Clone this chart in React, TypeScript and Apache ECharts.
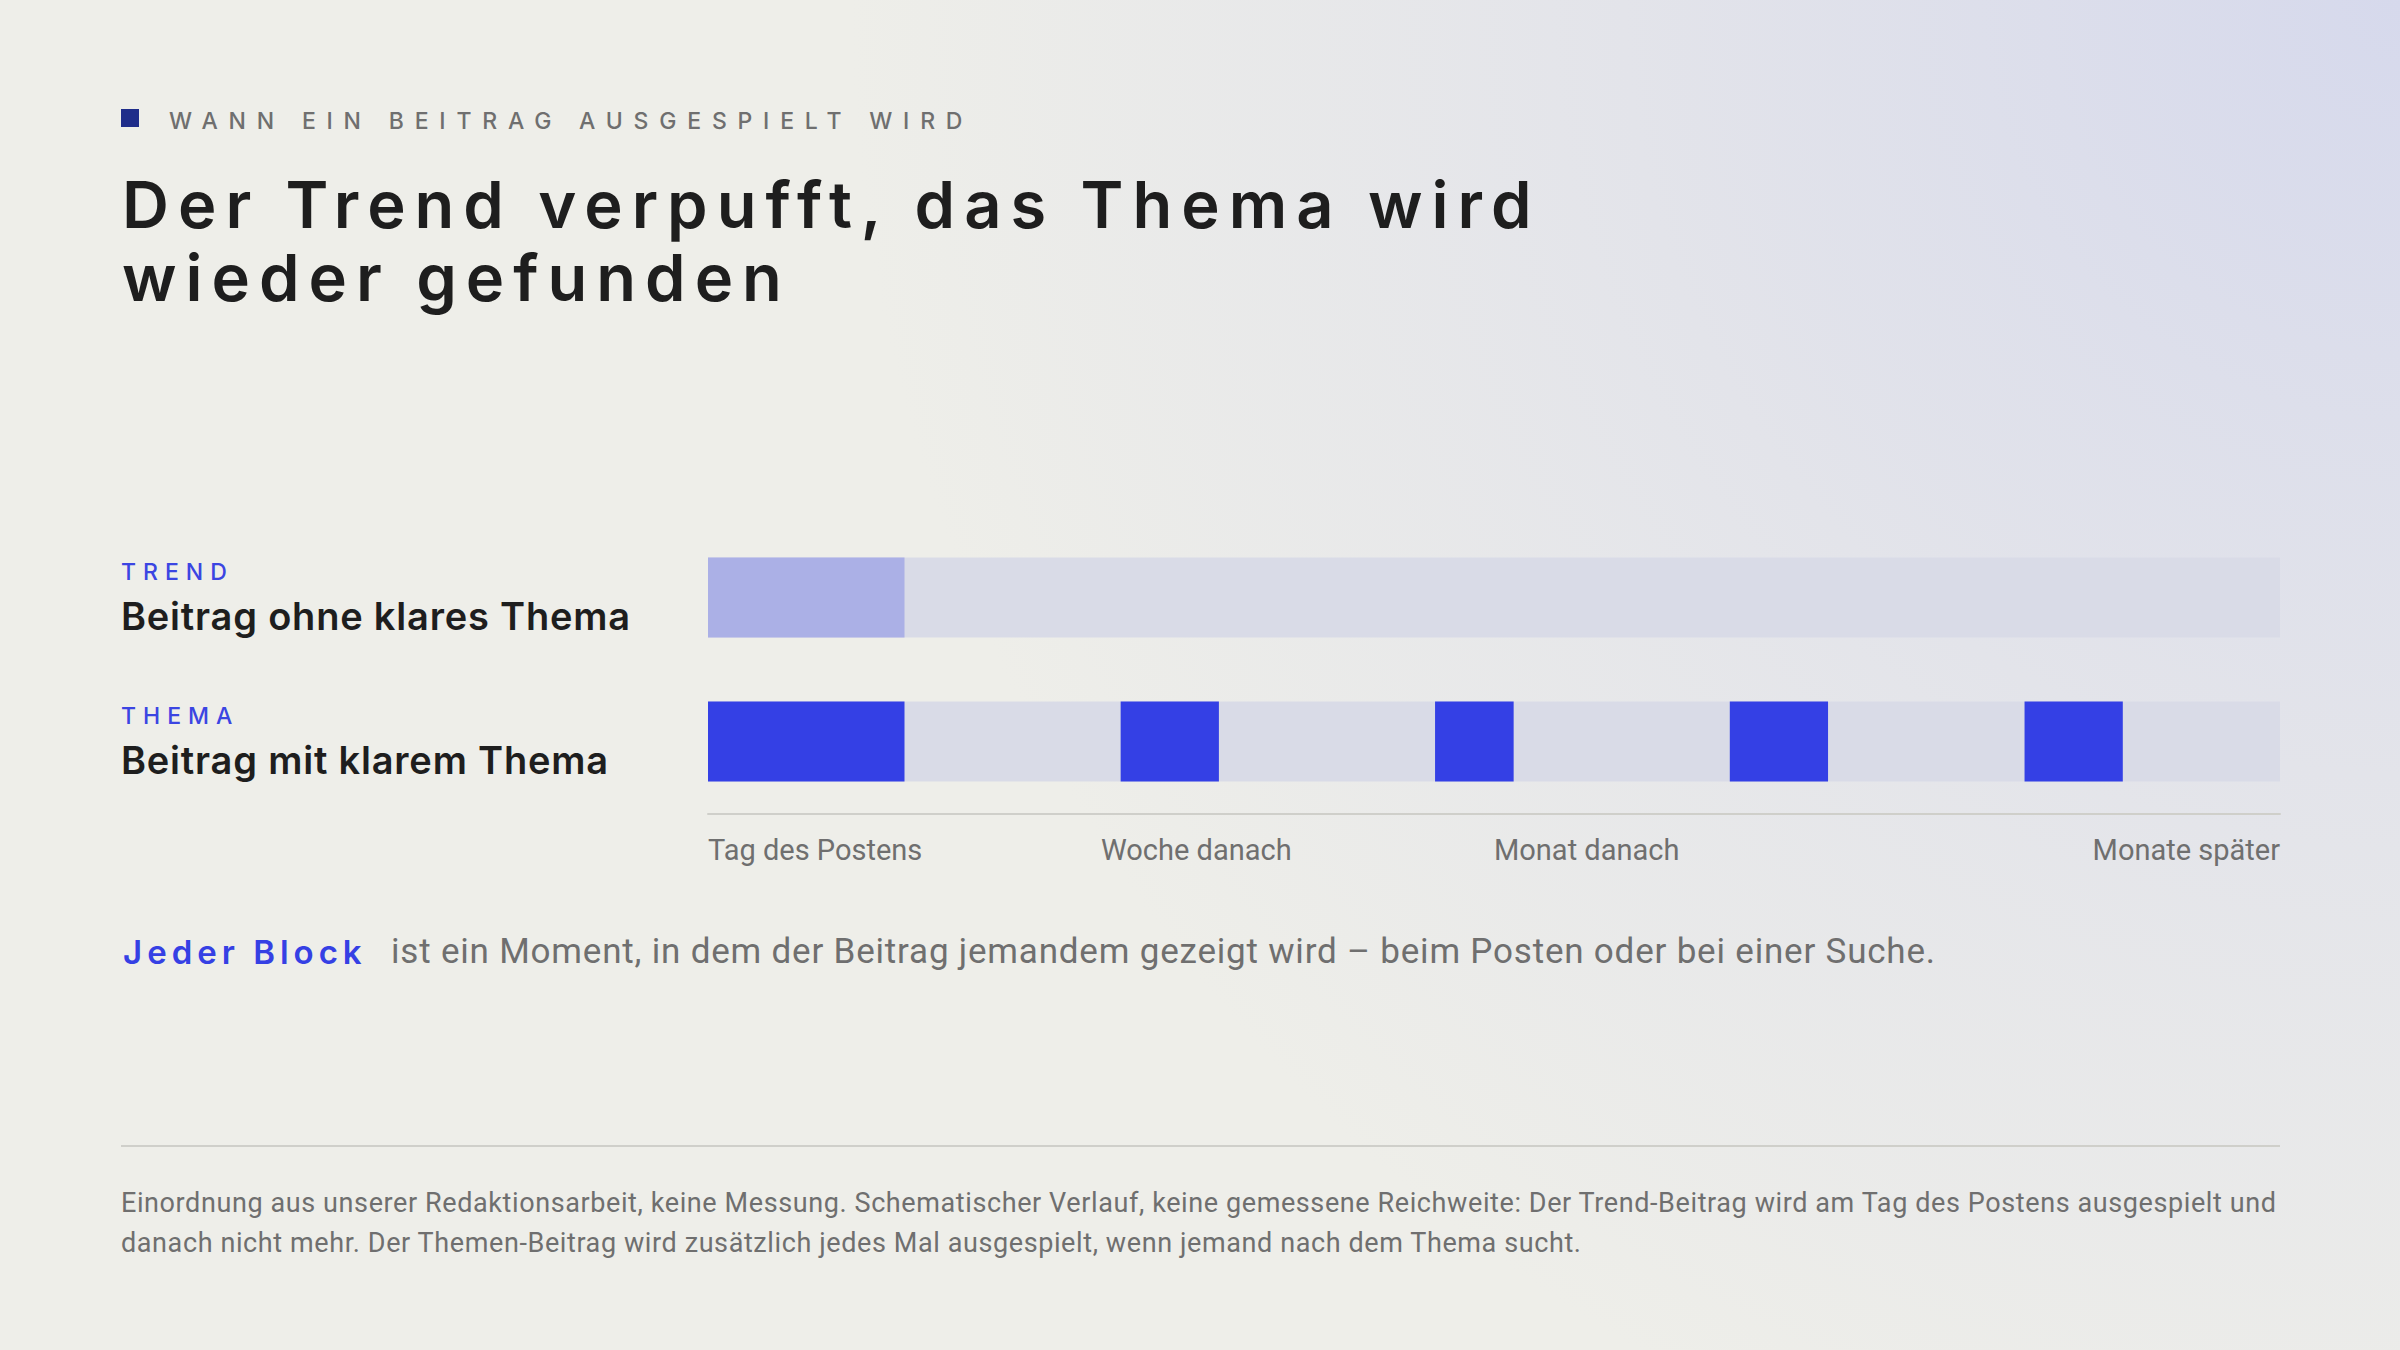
import React, { useEffect, useRef } from "react";
import * as echarts from "echarts";

// ---- data ----
const eyebrow = "WANN EIN BEITRAG AUSGESPIELT WIRD";
const titleLines = ["Der Trend verpufft, das Thema wird", "wieder gefunden"];
const rowTags = ["TREND", "THEMA"];
const rowNames = ["Beitrag ohne klares Thema", "Beitrag mit klarem Thema"];
const tickLabels = ["Tag des Postens", "Woche danach", "Monat danach", "", "Monate später"];
const trendBlocks = [[0, 12.5]];
const themaBlocks = [
  [0, 12.5],
  [26.25, 32.5],
  [46.25, 51.25],
  [65, 71.25],
  [83.75, 90],
];
const legendLead = "Jeder Block";
const legendText =
  "ist ein Moment, in dem der Beitrag jemandem gezeigt wird – beim Posten oder bei einer Suche.";
const footnoteLines = [
  "Einordnung aus unserer Redaktionsarbeit, keine Messung. Schematischer Verlauf, keine gemessene Reichweite: Der Trend-Beitrag wird am Tag des Postens ausgespielt und",
  "danach nicht mehr. Der Themen-Beitrag wird zusätzlich jedes Mal ausgespielt, wenn jemand nach dem Thema sucht.",
];

const BLUE = "#3440e5";
const BLUE_LIGHT = "#abb0e6";
const TRACK = "#d9dbe7";
const GRAY = "#6f6f6f";
const DARK = "#1e1e1e";
const RULE = "#cfcfca";

const spacing: Record<string, string> = {
  [eyebrow]: "10.8px",
  [titleLines[0]]: "9px",
  [titleLines[1]]: "9px",
  TREND: "7px",
  THEMA: "7px",
  [rowNames[0]]: "0.8px",
  [rowNames[1]]: "0.8px",
  [legendLead]: "5px",
  [legendText]: "0.8px",
  [footnoteLines[0]]: "0.6px",
  [footnoteLines[1]]: "0.6px",
};

export default function App() {
  const ref = useRef<HTMLDivElement>(null);

  useEffect(() => {
    document.body.style.margin = "0";
    document.body.style.overflow = "hidden";
    const el = ref.current!;
    const chart = echarts.init(el, undefined, { renderer: "svg" });

    const rectItem = (params: any, api: any) => {
      const row = api.value(0);
      const a = api.coord([api.value(1), row]);
      const b = api.coord([api.value(2), row]);
      const h = 80;
      return {
        type: "rect",
        shape: { x: a[0], y: a[1] - h / 2, width: b[0] - a[0], height: h },
        style: { fill: api.visual("color") },
      };
    };

    const option: any = {
      animation: false,
      backgroundColor: "#eeeee9",
      grid: { left: 708, right: 120, top: 525.5, height: 288, containLabel: false },
      xAxis: {
        type: "value",
        min: 0,
        max: 100,
        interval: 25,
        splitLine: { show: false },
        axisTick: { show: false },
        axisLine: { show: true, lineStyle: { color: RULE, width: 2 } },
        axisLabel: {
          show: true,
          margin: 22,
          align: "left",
          alignMaxLabel: "right",
          color: GRAY,
          fontSize: 29,
          fontFamily: "Roboto",
          formatter: (v: number) => tickLabels[Math.round(v / 25)] ?? "",
        },
      },
      yAxis: {
        type: "category",
        data: rowNames,
        inverse: true,
        axisLine: { show: false },
        axisTick: { show: false },
        splitLine: { show: false },
        axisLabel: {
          align: "left",
          margin: 587,
          formatter: (v: string, i: number) => `{tag|${rowTags[i]}}\n{name|${v}}`,
          rich: {
            tag: {
              fontSize: 23,
              lineHeight: 36,
              fontFamily: "Inter",
              fontWeight: 500,
              color: "#3b45e2",
            },
            name: {
              fontSize: 38,
              lineHeight: 52,
              fontFamily: "Inter",
              fontWeight: 600,
              color: DARK,
            },
          },
        },
      },
      series: [
        {
          type: "custom",
          name: "track",
          renderItem: rectItem,
          itemStyle: { color: TRACK },
          encode: { x: [1, 2], y: 0 },
          data: rowNames.map((_, i) => [i, 0, 100]),
          z: 1,
        },
        {
          type: "custom",
          name: "Trend",
          renderItem: rectItem,
          itemStyle: { color: BLUE_LIGHT },
          encode: { x: [1, 2], y: 0 },
          data: trendBlocks.map((b) => [0, b[0], b[1]]),
          z: 2,
        },
        {
          type: "custom",
          name: "Thema",
          renderItem: rectItem,
          itemStyle: { color: BLUE },
          encode: { x: [1, 2], y: 0 },
          data: themaBlocks.map((b) => [1, b[0], b[1]]),
          z: 2,
        },
      ],
      graphic: [
        {
          type: "rect",
          z: -100,
          silent: true,
          shape: { x: 0, y: 0, width: 2400, height: 1350 },
          style: {
            fill: new echarts.graphic.RadialGradient(
              2400,
              0,
              1550,
              [
                { offset: 0, color: "#d6d9ec" },
                { offset: 0.5, color: "#e3e4ea" },
                { offset: 1, color: "#eeeee9" },
              ],
              true
            ),
          },
        },
        {
          type: "rect",
          shape: { x: 121, y: 109, width: 18, height: 18 },
          style: { fill: "#1f2d8a" },
        },
        {
          type: "text",
          x: 169,
          y: 121,
          style: {
            text: eyebrow,
            fontSize: 23,
            fontFamily: "Inter",
            fontWeight: 500,
            fill: GRAY,
            align: "left",
            verticalAlign: "middle",
          },
        },
        ...titleLines.map((t, i) => ({
          type: "text",
          x: 122,
          y: 204 + i * 73.5,
          style: {
            text: t,
            fontSize: 65,
            fontFamily: "Inter",
            fontWeight: 600,
            fill: DARK,
            align: "left",
            verticalAlign: "middle",
          },
        })),
        {
          type: "text",
          x: 123,
          y: 952,
          style: {
            text: legendLead,
            fontSize: 33,
            fontFamily: "Inter",
            fontWeight: 600,
            fill: "#3540e4",
            align: "left",
            verticalAlign: "middle",
          },
        },
        {
          type: "text",
          x: 391,
          y: 951,
          style: {
            text: legendText,
            fontSize: 35,
            fontFamily: "Roboto",
            fill: GRAY,
            align: "left",
            verticalAlign: "middle",
          },
        },
        {
          type: "line",
          shape: { x1: 121, y1: 1146, x2: 2280, y2: 1146 },
          style: { stroke: RULE, lineWidth: 2 },
        },
        ...footnoteLines.map((t, i) => ({
          type: "text",
          x: 121,
          y: 1203 + i * 40,
          style: {
            text: t,
            fontSize: 27,
            fontFamily: "Roboto",
            fill: GRAY,
            align: "left",
            verticalAlign: "middle",
          },
        })),
      ],
    };

    const applySpacing = () => {
      el.querySelectorAll("text").forEach((t) => {
        const s = spacing[(t.textContent || "").trim()];
        if (s) t.setAttribute("letter-spacing", s);
      });
    };

    chart.setOption(option);
    applySpacing();
    chart.on("finished", applySpacing);
    const timer = window.setTimeout(applySpacing, 50);

    return () => {
      window.clearTimeout(timer);
      chart.dispose();
    };
  }, []);

  return <div ref={ref} style={{ width: 2400, height: 1350 }} />;
}
